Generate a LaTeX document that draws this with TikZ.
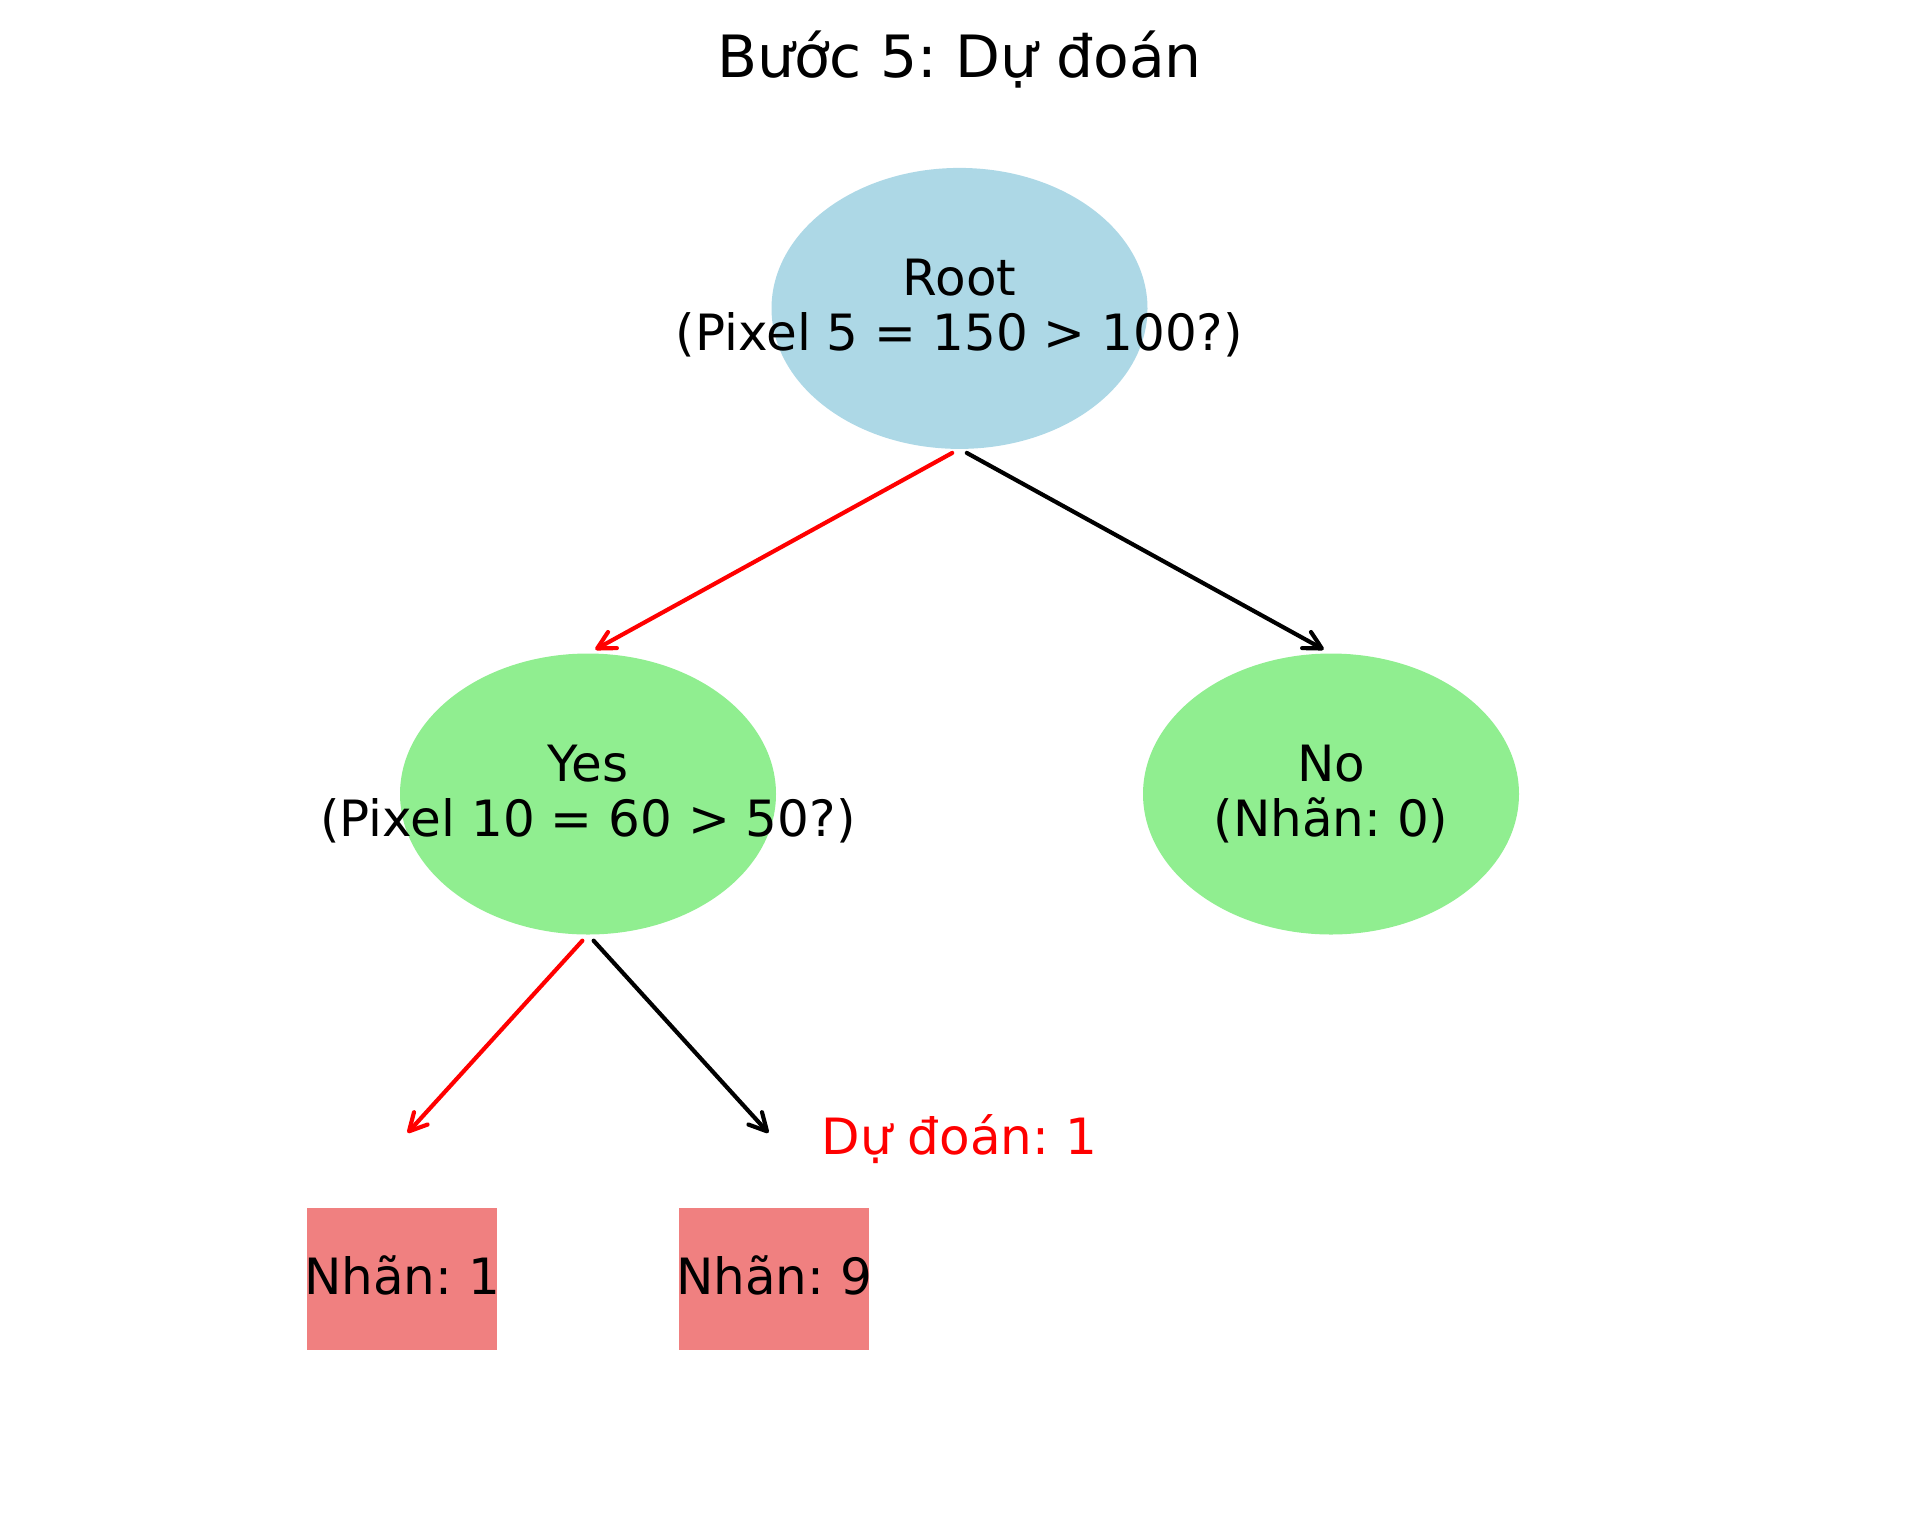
\documentclass[tikz,border=0pt]{standalone}
\usepackage{fontspec}
\setmainfont{DejaVu Sans}
\frenchspacing
\usetikzlibrary{shapes.geometric,arrows.meta}
\definecolor{lblue}{RGB}{173,216,230}
\definecolor{lgreen}{RGB}{144,238,144}
\definecolor{lcoral}{RGB}{240,128,128}
\begin{document}
\begin{tikzpicture}[x=0.24pt,y=-0.24pt,
  blob/.style={ellipse, draw=none, inner sep=0pt, outer sep=0pt, minimum width=90.24pt, minimum height=67.44pt},
  leafbox/.style={rectangle, draw=none, fill=lcoral, inner sep=0pt, outer sep=0pt, minimum width=45.67pt, minimum height=34.08pt},
  lbl/.style={font=\fontsize{12}{13.2}\selectfont\frenchspacing, align=center, inner sep=0pt, outer sep=0pt},
  link/.style={line width=1pt, line cap=round, -{Straight Barb[length=4.2pt,width=4.4pt,round]}, shorten <=2pt, shorten >=2pt}
]
\useasboundingbox (0,0) rectangle (1919,1517);
\node[font=\fontsize{14}{16.8}\selectfont\frenchspacing, anchor=base, inner sep=0pt] (title) at (959.5,77.5) {Bước 5: Dự đoán};

\node[blob, fill=lblue] (root) at (959.5,308.4) {};
\node[lbl] (roottxt) at (root.center) {Root\\(Pixel 5 = 150 > 100?)};

\node[blob, fill=lgreen] (yes) at (588,794) {};
\node[lbl] (yestxt) at (yes.center) {Yes\\(Pixel 10 = 60 > 50?)};

\node[blob, fill=lgreen] (no) at (1331,794) {};
\node[lbl] (notxt) at (no.center) {No\\(Nhãn: 0)};

\coordinate (leafatop) at (402,1139);
\coordinate (leafbtop) at (774,1139);

\draw[link, red] (root.south) -- (yes.north);
\draw[link, black] (root.south) -- (no.north);
\draw[link, red] (yes.south) -- (leafatop);
\draw[link, black] (yes.south) -- (leafbtop);

\node[lbl, text=red, anchor=base] (pred) at (959.4,1154) {Dự đoán: 1};

\node[leafbox] (leafa) at (402,1278.7) {};
\node[lbl, anchor=base] (leafatxt) at (402,1294.3) {Nhãn: 1};
\node[leafbox] (leafb) at (774,1278.7) {};
\node[lbl, anchor=base] (leafbtxt) at (774,1294.3) {Nhãn: 9};
\end{tikzpicture}
\end{document}
